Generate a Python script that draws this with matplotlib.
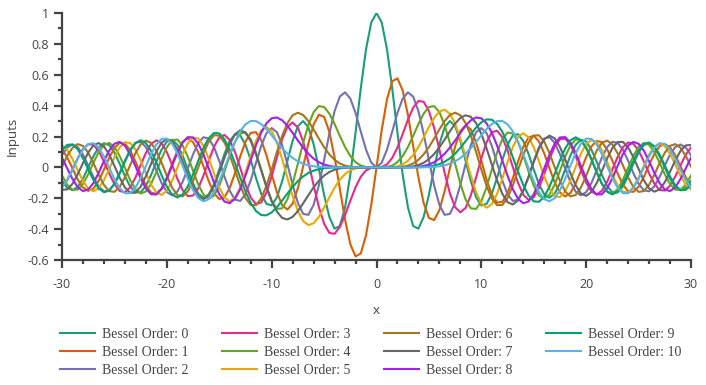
import matplotlib.pyplot as plt
from matplotlib.ticker import MultipleLocator, FuncFormatter
import numpy as np

# sample positions, every 0.5 from -30 to 30
X = np.arange(-30, 30.5, 0.5)

J0 = [-0.0864, -0.1332, -0.1478, -0.1263, -0.0732, -0.0010, 0.0727, 0.1299, 0.1560, 0.1441,
      0.0963, 0.0237, -0.0562, -0.1239, -0.1624, -0.1616, -0.1207, -0.0490, 0.0366, 0.1151,
      0.1670, 0.1789, 0.1466, 0.0772, -0.0134, -0.1031, -0.1699, -0.1964, -0.1749, -0.1092,
      -0.0142, 0.0876, 0.1711, 0.2147, 0.2069, 0.1469, 0.0477, -0.0677, -0.1712, -0.2366,
      -0.2459, -0.1939, -0.0903, 0.0419, 0.1717, 0.2663, 0.3001, 0.2601, 0.1506, -0.0068,
      -0.1776, -0.3205, -0.3971, -0.3801, -0.2601, -0.0484, 0.2239, 0.5118, 0.7652, 0.9385,
      1.0,
      0.9385, 0.7652, 0.5118, 0.2239, -0.0484, -0.2601, -0.3801, -0.3971, -0.3205, -0.1776,
      -0.0068, 0.1506, 0.2601, 0.3001, 0.2663, 0.1717, 0.0419, -0.0903, -0.1939, -0.2459,
      -0.2366, -0.1712, -0.0677, 0.0477, 0.1469, 0.2069, 0.2147, 0.1711, 0.0876, -0.0142,
      -0.1092, -0.1749, -0.1964, -0.1699, -0.1031, -0.0134, 0.0772, 0.1466, 0.1789, 0.1670,
      0.1151, 0.0366, -0.0490, -0.1207, -0.1616, -0.1624, -0.1239, -0.0562, 0.0237, 0.0963,
      0.1441, 0.1560, 0.1299, 0.0727, -0.0010, -0.0732, -0.1263, -0.1478, -0.1332, -0.0864]

J1 = [0.1188, 0.0643, -0.0061, -0.0777, -0.1306, -0.1521, -0.1368, -0.0870, -0.0150, 0.0620,
      0.1254, 0.1589, 0.1540, 0.1109, 0.0395, -0.0432, -0.1172, -0.1638, -0.1711, -0.1362,
      -0.0668, 0.0209, 0.1057, 0.1665, 0.1880, 0.1633, 0.0977, 0.0057, -0.0904, -0.1673,
      -0.2051, -0.1934, -0.1334, -0.0380, 0.0703, 0.1655, 0.2234, 0.2281, 0.1768, 0.0789,
      -0.0435, -0.1613, -0.2453, -0.2731, -0.2346, -0.1352, 0.0047, 0.1538, 0.2767, 0.3414,
      0.3276, 0.2311, 0.0660, -0.1374, -0.3391, -0.4971, -0.5767, -0.5579, -0.4401, -0.2423,
      0.0,
      0.2423, 0.4401, 0.5579, 0.5767, 0.4971, 0.3391, 0.1374, -0.0660, -0.2311, -0.3276,
      -0.3414, -0.2767, -0.1538, -0.0047, 0.1352, 0.2346, 0.2731, 0.2453, 0.1613, 0.0435,
      -0.0789, -0.1768, -0.2281, -0.2234, -0.1655, -0.0703, 0.0380, 0.1334, 0.1934, 0.2051,
      0.1673, 0.0904, -0.0057, -0.0977, -0.1633, -0.1880, -0.1665, -0.1057, -0.0209, 0.0668,
      0.1362, 0.1711, 0.1638, 0.1172, 0.0432, -0.0395, -0.1109, -0.1540, -0.1589, -0.1254,
      -0.0620, 0.0150, 0.0870, 0.1368, 0.1521, 0.1306, 0.0777, 0.0061, -0.0643, -0.1188]

J2 = [0.0785, 0.1288, 0.1482, 0.1318, 0.0825, 0.0121, -0.0626, -0.1233, -0.1548, -0.1490,
      -0.1063, -0.0367, 0.0434, 0.1145, 0.1589, 0.1654, 0.1313, 0.0642, -0.0203, -0.1018,
      -0.1603, -0.1810, -0.1578, -0.0952, -0.0075, 0.0845, 0.1584, 0.1957, 0.1862, 0.1308,
      0.0416, -0.0609, -0.1520, -0.2091, -0.2177, -0.1734, -0.0849, 0.0280, 0.1390, 0.2216,
      0.2546, 0.2279, 0.1448, 0.0223, -0.1130, -0.2303, -0.3014, -0.3074, -0.2429, -0.1173,
      0.0466, 0.2178, 0.3641, 0.4586, 0.4861, 0.4461, 0.3528, 0.2321, 0.1149, 0.0306,
      0.0,
      0.0306, 0.1149, 0.2321, 0.3528, 0.4461, 0.4861, 0.4586, 0.3641, 0.2178, 0.0466,
      -0.1173, -0.2429, -0.3074, -0.3014, -0.2303, -0.1130, 0.0223, 0.1448, 0.2279, 0.2546,
      0.2216, 0.1390, 0.0280, -0.0849, -0.1734, -0.2177, -0.2091, -0.1520, -0.0609, 0.0416,
      0.1308, 0.1862, 0.1957, 0.1584, 0.0845, -0.0075, -0.0952, -0.1578, -0.1810, -0.1603,
      -0.1018, -0.0203, 0.0642, 0.1313, 0.1654, 0.1589, 0.1145, 0.0434, -0.0367, -0.1063,
      -0.1490, -0.1548, -0.1233, -0.0626, 0.0121, 0.0825, 0.1318, 0.1482, 0.1288, 0.0785]

J3 = [-0.1293, -0.0818, -0.0143, 0.0592, 0.1188, 0.1504, 0.1461, 0.1056, 0.0389, -0.0387,
      -0.1083, -0.1529, -0.1613, -0.1304, -0.0672, 0.0138, 0.0933, 0.1519, 0.1750, 0.1561,
      0.0989, 0.0163, -0.0725, -0.1460, -0.1863, -0.1826, -0.1349, -0.0531, 0.0438, 0.1335,
      0.1940, 0.2102, 0.1768, 0.1000, -0.0033, -0.1100, -0.1951, -0.2379, -0.2273, -0.1633,
      -0.0584, 0.0653, 0.1809, 0.2626, 0.2911, 0.2581, 0.1676, 0.0354, -0.1148, -0.2561,
      -0.3648, -0.4247, -0.4302, -0.3868, -0.3091, -0.2166, -0.1289, -0.0610, -0.0196, -0.0026,
      0.0,
      0.0026, 0.0196, 0.0610, 0.1289, 0.2166, 0.3091, 0.3868, 0.4302, 0.4247, 0.3648,
      0.2561, 0.1148, -0.0354, -0.1676, -0.2581, -0.2911, -0.2626, -0.1809, -0.0653, 0.0584,
      0.1633, 0.2273, 0.2379, 0.1951, 0.1100, 0.0033, -0.1000, -0.1768, -0.2102, -0.1940,
      -0.1335, -0.0438, 0.0531, 0.1349, 0.1826, 0.1863, 0.1460, 0.0725, -0.0163, -0.0989,
      -0.1561, -0.1750, -0.1519, -0.0933, -0.0138, 0.0672, 0.1304, 0.1613, 0.1529, 0.1083,
      0.0387, -0.0389, -0.1056, -0.1461, -0.1504, -0.1188, -0.0592, 0.0143, 0.0818, 0.1293]

J4 = [-0.0526, -0.1122, -0.1453, -0.1442, -0.1079, -0.0449, 0.0302, 0.0994, 0.1459, 0.1581,
      0.1323, 0.0741, -0.0031, -0.0812, -0.1414, -0.1691, -0.1568, -0.1066, -0.0297, 0.0562,
      0.1307, 0.1760, 0.1806, 0.1425, 0.0696, -0.0219, -0.1107, -0.1764, -0.2026, -0.1824,
      -0.1192, -0.0261, 0.0762, 0.1646, 0.2193, 0.2262, 0.1825, 0.0961, -0.0150, -0.1283,
      -0.2196, -0.2691, -0.2655, -0.2077, -0.1054, 0.0238, 0.1578, 0.2748, 0.3576, 0.3967,
      0.3912, 0.3484, 0.2811, 0.2044, 0.1320, 0.0738, 0.0340, 0.0118, 0.0025, 0.0002,
      0.0,
      0.0002, 0.0025, 0.0118, 0.0340, 0.0738, 0.1320, 0.2044, 0.2811, 0.3484, 0.3912,
      0.3967, 0.3576, 0.2748, 0.1578, 0.0238, -0.1054, -0.2077, -0.2655, -0.2691, -0.2196,
      -0.1283, -0.0150, 0.0961, 0.1825, 0.2262, 0.2193, 0.1646, 0.0762, -0.0261, -0.1192,
      -0.1824, -0.2026, -0.1764, -0.1107, -0.0219, 0.0696, 0.1425, 0.1806, 0.1760, 0.1307,
      0.0562, -0.0297, -0.1066, -0.1568, -0.1691, -0.1414, -0.0812, -0.0031, 0.0741, 0.1323,
      0.1581, 0.1459, 0.0994, 0.0302, -0.0449, -0.1079, -0.1442, -0.1453, -0.1122, -0.0526]

J5 = [0.1432, 0.1122, 0.0544, -0.0187, -0.0879, -0.1373, -0.1550, -0.1356, -0.0837, -0.0109,
      0.0660, 0.1287, 0.1623, 0.1581, 0.1164, 0.0463, -0.0363, -0.1122, -0.1637, -0.1780,
      -0.1512, -0.0885, -0.0036, 0.0843, 0.1554, 0.1926, 0.1870, 0.1387, 0.0575, -0.0394,
      -0.1305, -0.1958, -0.2204, -0.1975, -0.1316, -0.0347, 0.0735, 0.1710, 0.2383, 0.2611,
      0.2341, 0.1613, 0.0550, -0.0671, -0.1858, -0.2835, -0.3479, -0.3736, -0.3621, -0.3209,
      -0.2611, -0.1947, -0.1321, -0.0804, -0.0430, -0.0195, -0.0070, -0.0018, -0.0002, 0.0,
      0.0,
      0.0, 0.0002, 0.0018, 0.0070, 0.0195, 0.0430, 0.0804, 0.1321, 0.1947, 0.2611,
      0.3209, 0.3621, 0.3736, 0.3479, 0.2835, 0.1858, 0.0671, -0.0550, -0.1613, -0.2341,
      -0.2611, -0.2383, -0.1710, -0.0735, 0.0347, 0.1316, 0.1975, 0.2204, 0.1958, 0.1305,
      0.0394, -0.0575, -0.1387, -0.1870, -0.1926, -0.1554, -0.0843, 0.0036, 0.0885, 0.1512,
      0.1780, 0.1637, 0.1122, 0.0363, -0.0463, -0.1164, -0.1581, -0.1623, -0.1287, -0.0660,
      0.0109, 0.0837, 0.1356, 0.1550, 0.1373, 0.0879, 0.0187, -0.0544, -0.1122, -0.1432]

J6 = [0.0049, 0.0742, 0.1265, 0.1508, 0.1393, 0.0948, 0.0273, -0.0482, -0.1137, -0.1538,
      -0.1587, -0.1267, -0.0645, 0.0140, 0.0908, 0.1485, 0.1733, 0.1588, 0.1076, 0.0307,
      -0.0551, -0.1306, -0.1788, -0.1881, -0.1560, -0.0882, 0.0007, 0.0923, 0.1667, 0.2078,
      0.2061, 0.1611, 0.0812, -0.0183, -0.1180, -0.1984, -0.2437, -0.2448, -0.2016, -0.1203,
      -0.0145, 0.0993, 0.2043, 0.2867, 0.3376, 0.3541, 0.3392, 0.2999, 0.2458, 0.1868,
      0.1310, 0.0843, 0.0491, 0.0252, 0.0114, 0.0042, 0.0012, 0.0002, 0.0, 0.0,
      0.0,
      0.0, 0.0, 0.0002, 0.0012, 0.0042, 0.0114, 0.0252, 0.0491, 0.0843, 0.1310,
      0.1868, 0.2458, 0.2999, 0.3392, 0.3541, 0.3376, 0.2867, 0.2043, 0.0993, -0.0145,
      -0.1203, -0.2016, -0.2448, -0.2437, -0.1984, -0.1180, -0.0183, 0.0812, 0.1611, 0.2061,
      0.2078, 0.1667, 0.0923, 0.0007, -0.0882, -0.1560, -0.1881, -0.1788, -0.1306, -0.0551,
      0.0307, 0.1076, 0.1588, 0.1733, 0.1485, 0.0908, 0.0140, -0.0645, -0.1267, -0.1587,
      -0.1538, -0.1137, -0.0482, 0.0273, 0.0948, 0.1393, 0.1508, 0.1265, 0.0742, 0.0049]

J7 = [-0.1452, -0.1423, -0.1067, -0.0448, 0.0282, 0.0960, 0.1429, 0.1575, 0.1362, 0.0833,
      0.0102, -0.0667, -0.1300, -0.1652, -0.1637, -0.1255, -0.0582, 0.0236, 0.1022, 0.1600,
      0.1842, 0.1689, 0.1165, 0.0377, -0.0514, -0.1321, -0.1875, -0.2058, -0.1825, -0.1216,
      -0.0345, 0.0625, 0.1508, 0.2138, 0.2406, 0.2252, 0.1703, 0.0845, -0.0184, -0.1236,
      -0.2167, -0.2868, -0.3275, -0.3376, -0.3206, -0.2832, -0.2336, -0.1801, -0.1296, -0.0866,
      -0.0534, -0.0300, -0.0152, -0.0067, -0.0025, -0.0008, -0.0002, 0.0, 0.0, 0.0,
      0.0,
      0.0, 0.0, 0.0, 0.0002, 0.0008, 0.0025, 0.0067, 0.0152, 0.0300, 0.0534,
      0.0866, 0.1296, 0.1801, 0.2336, 0.2832, 0.3206, 0.3376, 0.3275, 0.2868, 0.2167,
      0.1236, 0.0184, -0.0845, -0.1703, -0.2252, -0.2406, -0.2138, -0.1508, -0.0625, 0.0345,
      0.1216, 0.1825, 0.2058, 0.1875, 0.1321, 0.0514, -0.0377, -0.1165, -0.1689, -0.1842,
      -0.1600, -0.1022, -0.0236, 0.0582, 0.1255, 0.1637, 0.1652, 0.1300, 0.0667, -0.0102,
      -0.0833, -0.1362, -0.1575, -0.1429, -0.0960, -0.0282, 0.0448, 0.1067, 0.1423, 0.1452]

J8 = [0.0629, -0.0066, -0.0750, -0.1288, -0.1535, -0.1436, -0.1014, -0.0350, 0.0403, 0.1081,
      0.1530, 0.1648, 0.1404, 0.0845, 0.0088, -0.0704, -0.1362, -0.1741, -0.1757, -0.1400,
      -0.0739, 0.0094, 0.0929, 0.1596, 0.1959, 0.1939, 0.1537, 0.0823, -0.0070, -0.0980,
      -0.1740, -0.2214, -0.2320, -0.2034, -0.1410, -0.0538, 0.0451, 0.1420, 0.2250, 0.2851,
      0.3179, 0.3233, 0.3051, 0.2694, 0.2235, 0.1744, 0.1280, 0.0881, 0.0565, 0.0337,
      0.0184, 0.0091, 0.0040, 0.0015, 0.0005, 0.0001, 0.0, 0.0, 0.0, 0.0,
      0.0,
      0.0, 0.0, 0.0, 0.0, 0.0001, 0.0005, 0.0015, 0.0040, 0.0091, 0.0184,
      0.0337, 0.0565, 0.0881, 0.1280, 0.1744, 0.2235, 0.2694, 0.3051, 0.3233, 0.3179,
      0.2851, 0.2250, 0.1420, 0.0451, -0.0538, -0.1410, -0.2034, -0.2320, -0.2214, -0.1740,
      -0.0980, -0.0070, 0.0823, 0.1537, 0.1939, 0.1959, 0.1596, 0.0929, 0.0094, -0.0739,
      -0.1400, -0.1757, -0.1741, -0.1362, -0.0704, 0.0088, 0.0845, 0.1404, 0.1648, 0.1530,
      0.1081, 0.0403, -0.0350, -0.1014, -0.1436, -0.1535, -0.1288, -0.0750, -0.0066, 0.0629]

J9 = [0.1116, 0.1459, 0.1481, 0.1171, 0.0595, -0.0124, -0.0828, -0.1364, -0.1610, -0.1511,
      -0.1081, -0.0409, 0.0364, 0.1077, 0.1576, 0.1756, 0.1573, 0.1060, 0.0318, -0.0508,
      -0.1251, -0.1766, -0.1947, -0.1757, -0.1228, -0.0452, 0.0429, 0.1260, 0.1895, 0.2228,
      0.2200, 0.1818, 0.1143, 0.0273, -0.0670, -0.1563, -0.2304, -0.2820, -0.3089, -0.3108,
      -0.2919, -0.2577, -0.2149, -0.1695, -0.1263, -0.0889, -0.0589, -0.0366, -0.0212, -0.0113,
      -0.0055, -0.0024, -0.0009, -0.0003, -0.0001, 0.0, 0.0, 0.0, 0.0, 0.0,
      0.0,
      0.0, 0.0, 0.0, 0.0, 0.0, 0.0001, 0.0003, 0.0009, 0.0024, 0.0055,
      0.0113, 0.0212, 0.0366, 0.0589, 0.0889, 0.1263, 0.1695, 0.2149, 0.2577, 0.2919,
      0.3108, 0.3089, 0.2820, 0.2304, 0.1563, 0.0670, -0.0273, -0.1143, -0.1818, -0.2200,
      -0.2228, -0.1895, -0.1260, -0.0429, 0.0452, 0.1228, 0.1757, 0.1947, 0.1766, 0.1251,
      0.0508, -0.0318, -0.1060, -0.1573, -0.1756, -0.1576, -0.1077, -0.0364, 0.0409, 0.1081,
      0.1511, 0.1610, 0.1364, 0.0828, 0.0124, -0.0595, -0.1171, -0.1481, -0.1459, -0.1116]

J10 = [-0.1299, -0.0824, -0.0170, 0.0548, 0.1152, 0.1517, 0.1566, 0.1276, 0.0711, -0.0014,
       -0.0752, -0.1347, -0.1677, -0.1669, -0.1322, -0.0701, 0.0075, 0.0854, 0.1485, 0.1846,
       0.1865, 0.1536, 0.0916, 0.0114, -0.0732, -0.1475, -0.1991, -0.2198, -0.2062, -0.1606,
       -0.0901, -0.0043, 0.0850, 0.1670, 0.2338, 0.2789, 0.3005, 0.2995, 0.2804, 0.2478,
       0.2075, 0.1651, 0.1247, 0.0895, 0.0608, 0.0390, 0.0235, 0.0133, 0.0070, 0.0034,
       0.0015, 0.0006, 0.0002, 0.0001, 0.0, 0.0, 0.0, 0.0, 0.0, 0.0,
       0.0,
       0.0, 0.0, 0.0, 0.0, 0.0, 0.0, 0.0001, 0.0002, 0.0006, 0.0015,
       0.0034, 0.0070, 0.0133, 0.0235, 0.0390, 0.0608, 0.0895, 0.1247, 0.1651, 0.2075,
       0.2478, 0.2804, 0.2995, 0.3005, 0.2789, 0.2338, 0.1670, 0.0850, -0.0043, -0.0901,
       -0.1606, -0.2062, -0.2198, -0.1991, -0.1475, -0.0732, 0.0114, 0.0916, 0.1536, 0.1865,
       0.1846, 0.1485, 0.0854, 0.0075, -0.0701, -0.1322, -0.1669, -0.1677, -0.1347, -0.0752,
       -0.0014, 0.0711, 0.1276, 0.1566, 0.1517, 0.1152, 0.0548, -0.0170, -0.0824, -0.1299]

SERIES = [J0, J1, J2, J3, J4, J5, J6, J7, J8, J9, J10]
LABELS = ["Bessel Order: %d" % n for n in range(11)]
COLORS = ["#1b9e77", "#d95f02", "#7570b3", "#e7298a", "#66a61e", "#e6ab02",
          "#a6761d", "#666666", "#a020f0", "#00a36f", "#56b4e9"]

plt.rcParams['axes.unicode_minus'] = False
plt.rcParams['font.family'] = ['Open Sans', 'DejaVu Sans']

fig = plt.figure(figsize=(7.06, 3.85), dpi=100)
ax = fig.add_axes([62 / 706, 125 / 385, 629 / 706, 247 / 385])

lines = []
for ys, lab, col in zip(SERIES, LABELS, COLORS):
    ln, = ax.plot(X, ys, color=col, lw=1.5, label=lab, solid_joinstyle='round')
    lines.append(ln)

ax.set_xlim(-30, 30)
ax.set_ylim(-0.6, 1)
ax.xaxis.set_major_locator(MultipleLocator(10))
ax.xaxis.set_minor_locator(MultipleLocator(2))
ax.yaxis.set_major_locator(MultipleLocator(0.2))
ax.yaxis.set_minor_locator(MultipleLocator(0.1))
ax.yaxis.set_major_formatter(FuncFormatter(lambda v, p: "%g" % round(v, 2)))

axis_col = "#444444"
for side in ["top", "right"]:
    ax.spines[side].set_visible(False)
for side in ["left", "bottom"]:
    ax.spines[side].set_color(axis_col)
    ax.spines[side].set_linewidth(1.6)
ax.tick_params(which="major", direction="out", length=6, width=1.6, color=axis_col,
               labelcolor=axis_col, labelsize=9)
ax.tick_params(which="minor", direction="out", length=3, width=1.6, color=axis_col)
ax.tick_params(axis="x", pad=7)
ax.set_xlabel("x", color=axis_col, fontsize=9.5, labelpad=9)
ax.set_ylabel("Inputs", color=axis_col, fontsize=9.5, labelpad=6)

fig.legend(lines, LABELS, loc="upper left", bbox_to_anchor=(60 / 706, 1 - 328 / 385),
           ncol=4, frameon=False, borderpad=0, borderaxespad=0,
           handlelength=2.5, handletextpad=0.5, columnspacing=2.45, labelspacing=0.36,
           prop={"family": "Liberation Serif", "size": 10}, labelcolor=axis_col)

fig.savefig("out.png", dpi=100)
